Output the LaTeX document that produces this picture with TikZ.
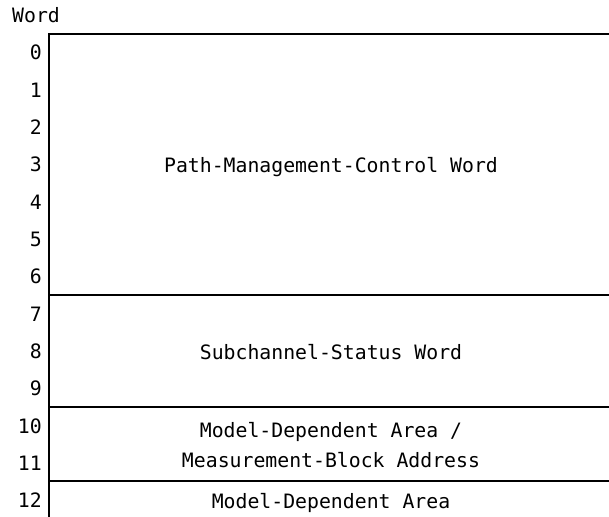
\documentclass[tikz,border=0pt]{standalone}
\usepackage{fontspec}
\setmonofont{DejaVu Sans Mono}
\usepackage{tikz}
\usetikzlibrary{positioning}

\begin{document}
\begin{tikzpicture}[x=1pt,y=-1pt,
    txt/.style={font=\ttfamily\fontsize{19.8}{30}\selectfont,inner sep=0pt,anchor=base},
    wordno/.style={txt,anchor=base east},
    rule/.style={line width=2pt}]
  \useasboundingbox (0,0) rectangle (609,516);
  % word numbers
  \node[txt,anchor=base west] (hdr) at (12,23) {Word};
  \foreach \i in {0,...,12}
    \node[wordno] (w\i) at (42,34+37.3*\i+26) {\i};
  % frame
  \coordinate (tl) at (49,34);
  \coordinate (bl) at (49,517);
  \draw[rule] (bl) -- (tl) -- (610,34);
  \draw[rule] (48,294.7) -- (610,294.7);
  \draw[rule] (48,406.7) -- (610,406.7);
  \draw[rule] (48,481.3) -- (610,481.3);
  % areas
  \node[txt] (pmcw) at (331,172.5) {Path-Management-Control Word};
  \node[txt] (scsw) at (331,359) {Subchannel-Status Word};
  \node[txt,align=center] (mbad) at (331,467.5) {Model-Dependent Area /\\Measurement-Block Address};
  \node[txt] (mda) at (331,508) {Model-Dependent Area};
\end{tikzpicture}
\end{document}
